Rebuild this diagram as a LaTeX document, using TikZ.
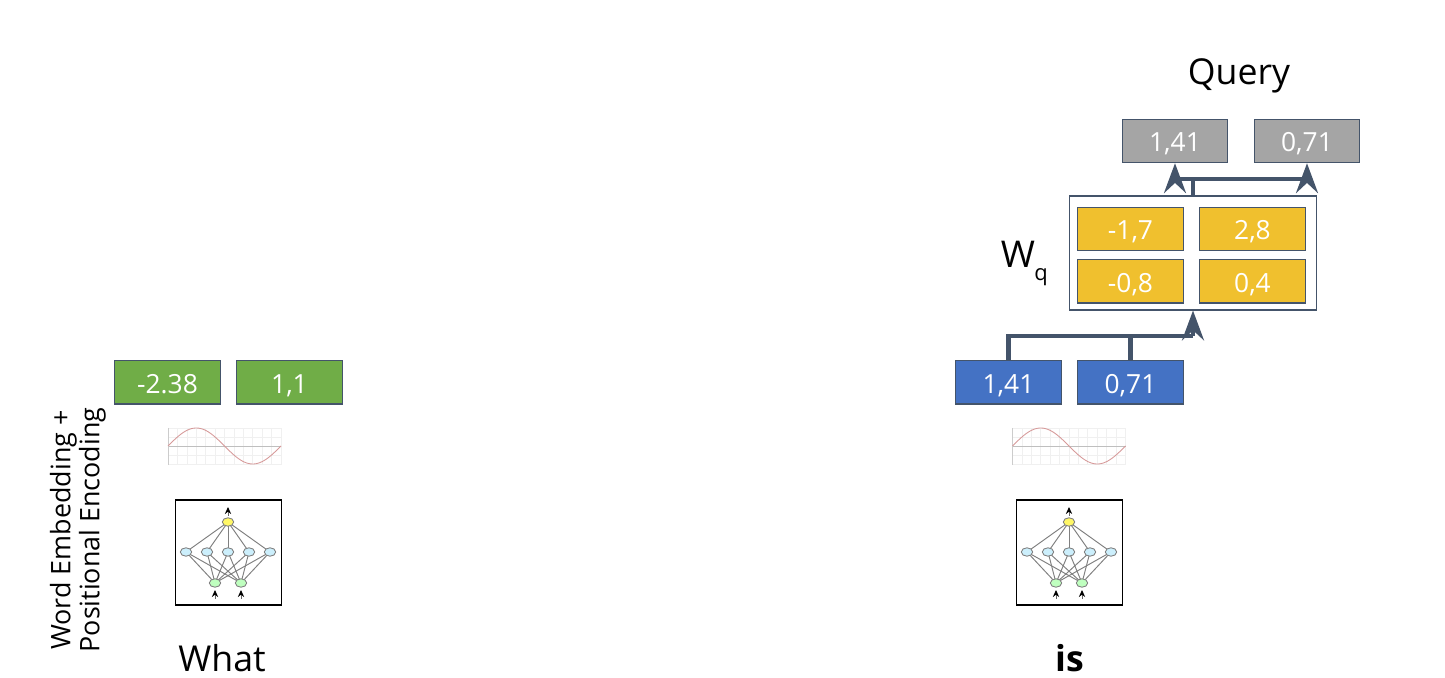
\documentclass[tikz,border=0pt]{standalone}
\usepackage{fontspec}
\setmainfont{Open Sans}
\usetikzlibrary{arrows.meta}
\definecolor{slate}{HTML}{44546A}
\definecolor{greenbox}{HTML}{70AD47}
\definecolor{bluebox}{HTML}{4472C4}
\definecolor{greybox}{HTML}{A5A5A5}
\definecolor{goldbox}{HTML}{F0C02E}
\tikzset{
  val node/.style={draw=slate,line width=0.7pt,minimum width=60pt,minimum height=24.6pt,inner sep=0pt,text=white,text height=12pt,text depth=0pt,font=\fontsize{15}{17}\selectfont},
  big label/.style={font=\fontsize{20.3}{24}\selectfont,inner sep=0pt},
  link/.style={draw=slate,line width=2.3pt},
  up arrow/.style={link,-{Stealth[length=17pt,width=12.5pt,inset=5.8pt]}},
  cell/.style={circle,draw=black!50,line width=0.5pt,inner sep=0pt,minimum width=4.8pt,xscale=1.35},
  net line/.style={draw=black!50,line width=0.55pt},
  net arrow/.style={draw=black!60,line width=0.5pt,-{Stealth[length=4pt,width=3.6pt,color=black]}},
  neuralnet/.pic={
    \node[draw=black,line width=0.9pt,minimum width=60.5pt,minimum height=59.5pt,inner sep=0pt] (frame) at (228.5,552.5) {};
    \foreach \k/\x in {1/186,2/207,3/228,4/249,5/270}
      \coordinate (p\k) at (\x,552);
    \foreach \k in {1,...,5} {
      \draw[net line] (228,522) -- (p\k);
      \draw[net line] (215,583) -- (p\k);
      \draw[net line] (241,583) -- (p\k);
    }
    \node[cell,fill=yellow!60] (out) at (228,522) {};
    \foreach \k in {1,...,5}
      \node[cell,fill=cyan!20] (h\k) at (p\k) {};
    \node[cell,fill=green!25] (in1) at (215,583) {};
    \node[cell,fill=green!25] (in2) at (241,583) {};
    \coordinate (a0) at (228,516);
    \coordinate (a1) at (228,507);
    \coordinate (b1) at (215,599);
    \coordinate (b2) at (241,599);
    \coordinate (c1) at (215,590);
    \coordinate (c2) at (241,590);
    \draw[net arrow] (a0) -- (a1);
    \draw[net arrow] (b1) -- (c1);
    \draw[net arrow] (b2) -- (c2);
  },
  sinewave/.pic={
    \foreach \x in {168,177.4,...,281}
      \draw[black!6,line width=0.3pt] (\x,428) -- (\x,465);
    \foreach \y in {428,437,...,465}
      \draw[black!6,line width=0.3pt] (168,\y) -- (281,\y);
    \draw[black!25,line width=0.4pt] (168,446) -- (281,446);
    \draw[black!20,line width=0.4pt] (168,428) -- (168,465);
    \draw[red!60!black!40,line width=0.5pt,domain=0:360,samples=60,smooth]
      plot ({168+\x*0.3139},{446-18*sin(\x)});
  }
}
\begin{document}
\begin{tikzpicture}[x=0.02cm,y=-0.02cm]
  \useasboundingbox (0,0) rectangle (1445,678);
  % left column
  \node[val node,fill=greenbox] at (167.5,382.5) (what1) {-2.38};
  \node[val node,fill=greenbox] at (289.5,382.5) (what2) {1,1};
  \pic (sinewhat) at (0,0) {sinewave};
  \pic (netwhat) at (0,0) {neuralnet};
  \node[big label] at (222,658) (what) {What};
  \node[rotate=90,align=center,inner sep=0pt,font=\fontsize{15.3}{16.5}\selectfont] at (78,530) (axis) {Word Embedding +\\Positional Encoding};

  % right column
  \node[val node,fill=bluebox] at (1008.5,382.5) (is1) {1,41};
  \node[val node,fill=bluebox] at (1130.5,382.5) (is2) {0,71};
  \pic (sineis) at (844.5,0) {sinewave};
  \pic (netis) at (841,0) {neuralnet};
  \node[big label,font=\fontsize{20.3}{24}\selectfont\bfseries] at (1070,658) (is) {is};

  % weight matrix
  \node[draw=slate,fill=white,line width=0.7pt,minimum width=141pt,minimum height=64.8pt,inner sep=0pt] at (1193,253) (wq) {};
  \node[val node,fill=goldbox] at (1130.5,229) (w11) {-1,7};
  \node[val node,fill=goldbox] at (1252.5,229) (w12) {2,8};
  \node[val node,fill=goldbox] at (1130.5,281.5) (w21) {-0,8};
  \node[val node,fill=goldbox] at (1252.5,281.5) (w22) {0,4};
  \node[big label,font=\fontsize{21}{24}\selectfont] at (1018,254) (wname) {W};
  \node[font=\fontsize{12.5}{14}\selectfont,inner sep=0pt] at (1041,277) (wsub) {q};

  % query
  \node[val node,fill=greybox] at (1175,141) (q1) {1,41};
  \node[val node,fill=greybox] at (1307,141) (q2) {0,71};
  \node[big label] at (1239,76) (query) {Query};

  \coordinate (wjoin) at (1193,336);
  \coordinate (qsplit) at (1193,179);
  \coordinate (qleft) at (1175,179);
  \coordinate (qright) at (1307,179);
  \draw[link] (is1.north) |- (wjoin);
  \draw[link] (is2.north) -- (is2.north |- wjoin);
  \draw[up arrow] (wjoin) -- (wq.south);
  \draw[link] (wq.north) -- (qsplit);
  \draw[link] (qleft) -- (qright);
  \draw[up arrow] (qleft) -- (q1.south);
  \draw[up arrow] (qright) -- (q2.south);
\end{tikzpicture}
\end{document}
